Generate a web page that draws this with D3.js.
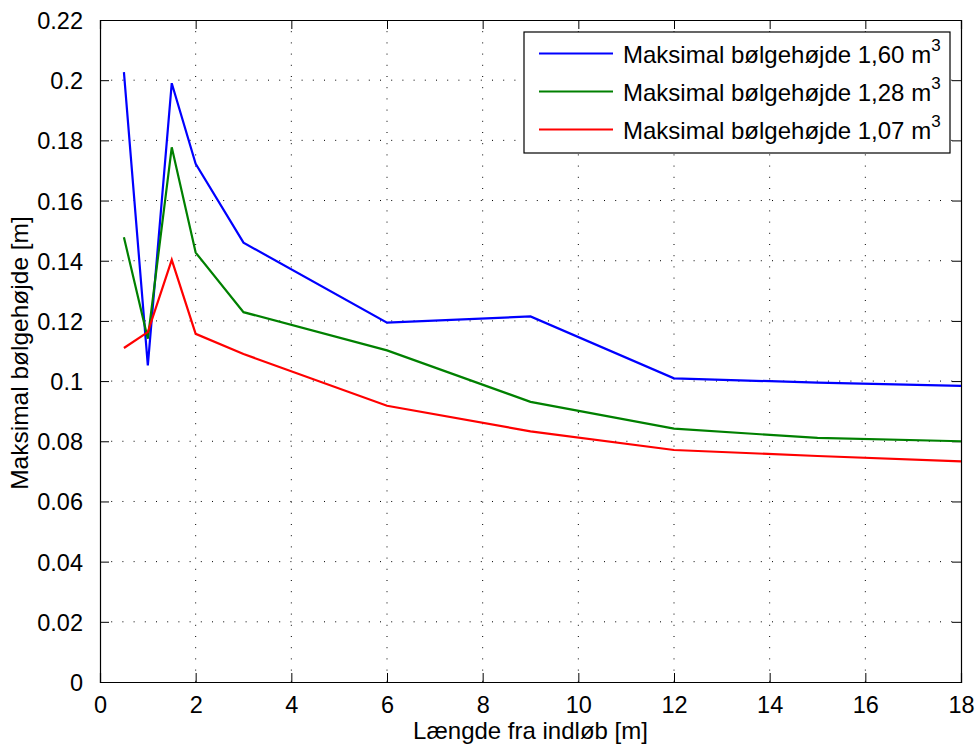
<html>
<head>
  <script type="text/javascript" src="https://d3js.org/d3.v7.min.js"></script>
  <style>
      body { margin: 0; background: #fff; }
      svg text { font-family: "Liberation Sans", Arial, Helvetica, sans-serif; fill: #000; }
  </style>
</head>
<body>
<div id="chart"></div>
<script>
    // distances from inlet [m]
    const distances = [0.5, 1, 1.5, 2, 3, 6, 9, 12, 15, 18];
    // max wave height [m] per volume
    const wave160 = [0.2027, 0.1052, 0.1990, 0.1722, 0.1460, 0.1194, 0.1215, 0.1009, 0.0995, 0.0984];
    const wave128 = [0.1478, 0.1141, 0.1777, 0.1427, 0.1229, 0.1102, 0.0931, 0.0842, 0.0811, 0.0800];
    const wave107 = [0.1110, 0.1163, 0.1403, 0.1157, 0.1090, 0.0918, 0.0833, 0.0771, 0.0751, 0.0733];
    const seriesNames = ["Maksimal bølgehøjde 1,60 m", "Maksimal bølgehøjde 1,28 m", "Maksimal bølgehøjde 1,07 m"];
    const seriesColors = ["#0000ff", "#008000", "#ff0000"];
    const xTicks = [0, 2, 4, 6, 8, 10, 12, 14, 16, 18];
    const yTicks = [0, 0.02, 0.04, 0.06, 0.08, 0.1, 0.12, 0.14, 0.16, 0.18, 0.2, 0.22];

    let width = 976;
    let height = 744;
    let margin = {top: 20, right: 15, bottom: 62, left: 100};
    let CHART_WIDTH = width - margin.left - margin.right;
    let CHART_HEIGHT = height - margin.top - margin.bottom;

    const svg = d3.select('#chart')
        .append('svg')
        .attr('width', width)
        .attr('height', height);

    const xScale = d3.scaleLinear().domain([0, 18]).range([0, CHART_WIDTH]);
    const yScale = d3.scaleLinear().domain([0, 0.22]).range([CHART_HEIGHT, 0]);

    const g = svg.append('g')
        .attr('transform', `translate(${margin.left}, ${margin.top})`);

    // dotted grid
    g.selectAll(".vgrid")
        .data(xTicks.slice(1, -1))
        .enter().append("line")
        .attr("x1", d => xScale(d)).attr("x2", d => xScale(d))
        .attr("y1", 0).attr("y2", CHART_HEIGHT)
        .attr("stroke", "#000").attr("stroke-width", 1)
        .attr("stroke-dasharray", "1,10.2");
    g.selectAll(".hgrid")
        .data(yTicks.slice(1, -1))
        .enter().append("line")
        .attr("y1", d => yScale(d)).attr("y2", d => yScale(d))
        .attr("x1", 0).attr("x2", CHART_WIDTH)
        .attr("stroke", "#000").attr("stroke-width", 1)
        .attr("stroke-dasharray", "1,10.2");

    // axes with inward ticks, MATLAB box style
    const fmt = d => d3.format("")(+d.toFixed(2));
    const tickLen = 9;
    const axB = g.append("g").attr("transform", `translate(0, ${CHART_HEIGHT})`)
        .call(d3.axisBottom(xScale).tickValues(xTicks).tickSize(-tickLen).tickPadding(tickLen + 5).tickFormat(fmt));
    const axL = g.append("g")
        .call(d3.axisLeft(yScale).tickValues(yTicks).tickSize(-tickLen).tickPadding(tickLen + 8).tickFormat(fmt));
    const axT = g.append("g")
        .call(d3.axisTop(xScale).tickValues(xTicks).tickSize(-tickLen).tickFormat(""));
    const axR = g.append("g").attr("transform", `translate(${CHART_WIDTH}, 0)`)
        .call(d3.axisRight(yScale).tickValues(yTicks).tickSize(-tickLen).tickFormat(""));

    [axB, axL, axT, axR].forEach(a => {
        a.select(".domain").attr("stroke", "#000").attr("stroke-width", 1.2);
        a.selectAll(".tick line").attr("stroke", "#000").attr("stroke-width", 1);
        a.selectAll("text").style("font-size", "23.5px").attr("fill", "#000");
    });
    axB.selectAll("text").attr("dy", "0.72em");
    axL.selectAll("text").attr("dy", "0.36em");

    // lines
    const allSeries = [wave160, wave128, wave107];
    const line = d3.line()
        .x((d, i) => xScale(distances[i]))
        .y(d => yScale(d));
    g.selectAll(".series")
        .data(allSeries)
        .enter().append("path")
        .attr("class", "series")
        .attr("d", d => line(d))
        .attr("fill", "none")
        .attr("stroke", (d, i) => seriesColors[i])
        .attr("stroke-width", 2.2)
        .attr("stroke-linejoin", "miter");

    // axis labels
    svg.append("text")
        .attr("x", margin.left + CHART_WIDTH / 2)
        .attr("y", 739)
        .attr("text-anchor", "middle")
        .style("font-size", "24px")
        .text("Længde fra indløb [m]");
    svg.append("text")
        .attr("transform", `translate(28, ${margin.top + CHART_HEIGHT / 2 + 2}) rotate(-90)`)
        .attr("text-anchor", "middle")
        .style("font-size", "24.5px")
        .text("Maksimal bølgehøjde [m]");

    // legend
    const legend = svg.append("g").attr("transform", "translate(524, 32)");
    legend.append("rect")
        .attr("width", 426).attr("height", 121)
        .attr("fill", "#fff").attr("stroke", "#000").attr("stroke-width", 1.2);
    seriesNames.forEach((name, i) => {
        const y = 21.5 + i * 38;
        legend.append("line")
            .attr("x1", 15).attr("x2", 89)
            .attr("y1", y).attr("y2", y)
            .attr("stroke", seriesColors[i]).attr("stroke-width", 2.2);
        const t = legend.append("text")
            .attr("x", 99).attr("y", y + 9)
            .style("font-size", "24px");
        t.append("tspan").text(name);
        t.append("tspan").attr("dy", -12).style("font-size", "17px").text("3");
    });
</script>
</body>
</html>
